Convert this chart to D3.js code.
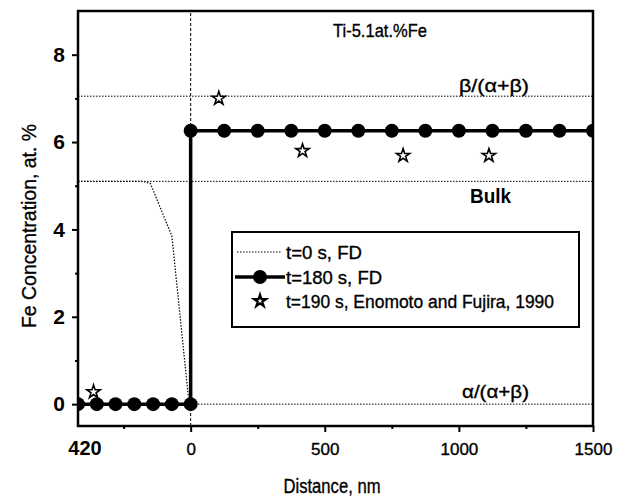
<!DOCTYPE html>
<html><head><meta charset="utf-8">
<script src="https://cdn.jsdelivr.net/npm/d3@7"></script>
<style>
body{margin:0;background:#fff}
svg text{font-family:"Liberation Sans",Arial,sans-serif;fill:#000}
svg text.heavy{stroke:#000;stroke-width:0.35px}
</style></head><body><svg id="c" width="626" height="499"></svg>
<script>
// ---- data ----
const xDomain = [-420, 1500];
const yDomain = [-0.5, 9];
const xTickValues = [-420, 0, 500, 1000, 1500];
const xTickLabels = ["420", "0", "500", "1000", "1500"];
const xMinorTicks = [-250, 250, 750, 1250];
const yTickValues = [0, 2, 4, 6, 8];
const yTickLabels = ["0", "2", "4", "6", "8"];
const yMinorTicks = [1, 3, 5, 7];
const seriesNames = ["t=0 s, FD", "t=180 s, FD", "t=190 s, Enomoto and Fujira, 1990"];
const t0X = [-420, -180, -150, -70, -10, 0];
const t0Y = [5.1, 5.1, 5.05, 3.85, 0.25, 0];
const t180X = [-420, -350, -280, -210, -140, -70, 0, 0, 125, 250, 375, 500, 625, 750, 875, 1000, 1125, 1250, 1375, 1500];
const t180Y = [0, 0, 0, 0, 0, 0, 0, 6.26, 6.26, 6.26, 6.26, 6.26, 6.26, 6.26, 6.26, 6.26, 6.26, 6.26, 6.26, 6.26];
const expX = [-362, 105, 417, 792, 1112];
const expY = [0.28, 7.0, 5.8, 5.69, 5.69];
const refLevels = [7.05, 5.1, 0];
const refLabels = ["β/(α+β)", "Bulk", "α/(α+β)"];
const titleText = "Ti-5.1at.%Fe";
const xLabel = "Distance, nm";
const yLabel = "Fe Concentration, at. %";

// ---- layout ----
const L = 78, R = 593, T = 11, B = 426;
const svg = d3.select("#c");
const x = d3.scaleLinear().domain(xDomain).range([L, R]);
const y = d3.scaleLinear().domain(yDomain).range([B, T]);

svg.append("defs").append("clipPath").attr("id", "clip")
  .append("rect").attr("x", L).attr("y", T).attr("width", R - L).attr("height", B - T);

const plot = svg.append("g").attr("clip-path", "url(#clip)");

// reference lines
plot.selectAll(".ref").data(refLevels).join("line")
  .attr("x1", x(xDomain[0])).attr("x2", x(xDomain[1]))
  .attr("y1", d => y(d)).attr("y2", d => y(d))
  .attr("stroke", "#000").attr("stroke-width", 1).attr("stroke-dasharray", "1.5,1.5");

// vertical dashed line at x=0
plot.append("line").attr("x1", x(0)).attr("x2", x(0)).attr("y1", y(yDomain[0])).attr("y2", y(yDomain[1]))
  .attr("stroke", "#000").attr("stroke-width", 1).attr("stroke-dasharray", "3,2");

// t=0 curve
const line = d3.line().x(d => x(d[0])).y(d => y(d[1]));
plot.append("path").datum(t0X.map((v, i) => [v, t0Y[i]]))
  .attr("d", line).attr("fill", "none").attr("stroke", "#000").attr("stroke-width", 1.2).attr("stroke-dasharray", "1.5,1.5");

// t=180 curve
const t180 = t180X.map((v, i) => [v, t180Y[i]]);
plot.append("path").datum(t180).attr("d", line).attr("fill", "none").attr("stroke", "#000").attr("stroke-width", 3.5);
plot.selectAll(".dot").data(t180).join("circle")
  .attr("cx", d => x(d[0])).attr("cy", d => y(d[1])).attr("r", 7).attr("fill", "#000");

// experimental stars
const star = d3.symbol().type(d3.symbolStar).size(55);
plot.selectAll(".star").data(expX.map((v, i) => [v, expY[i]])).join("path")
  .attr("d", star).attr("transform", d => `translate(${x(d[0])},${y(d[1])})`)
  .attr("fill", "#fff").attr("stroke", "#000").attr("stroke-width", 1.6);

// axes
const xAxis = svg.append("g").attr("transform", `translate(0,${B})`)
  .call(d3.axisBottom(x).tickValues(xTickValues).tickFormat((d, i) => xTickLabels[i]).tickSize(6).tickPadding(11));
xAxis.select(".domain").remove();
xAxis.selectAll(".tick line").attr("stroke-width", 2).attr("stroke", d => d === xDomain[0] ? "none" : "#000");
xAxis.selectAll(".tick text")
  .attr("class", d => d === xDomain[0] ? null : "heavy")
  .attr("font-weight", d => d === xDomain[0] ? "bold" : "normal")
  .attr("font-size", d => d === xDomain[0] ? 20 : 17)
  .attr("dy", d => d === xDomain[0] ? "0.6em" : "0.71em")
  .attr("dx", d => d === xDomain[0] ? 6.5 : 0);
svg.append("g").attr("transform", `translate(0,${B})`)
  .call(d3.axisBottom(x).tickValues(xMinorTicks).tickFormat("").tickSize(3))
  .call(g => g.select(".domain").remove()).selectAll("line").attr("stroke-width", 2);

const yAxis = svg.append("g").attr("transform", `translate(${L},0)`)
  .call(d3.axisLeft(y).tickValues(yTickValues).tickFormat((d, i) => yTickLabels[i]).tickSize(6).tickPadding(7));
yAxis.select(".domain").remove();
yAxis.selectAll(".tick line").attr("stroke-width", 2);
yAxis.selectAll(".tick text").attr("font-size", 21).attr("font-weight", "bold");
svg.append("g").attr("transform", `translate(${L},0)`)
  .call(d3.axisLeft(y).tickValues(yMinorTicks).tickFormat("").tickSize(3))
  .call(g => g.select(".domain").remove()).selectAll("line").attr("stroke-width", 2);

svg.selectAll(".tick text").attr("font-family", "Liberation Sans, Arial, sans-serif");
svg.selectAll("g").attr("font-family", null);

// frame
svg.append("rect").attr("x", L).attr("y", T).attr("width", R - L).attr("height", B - T)
  .attr("fill", "none").attr("stroke", "#000").attr("stroke-width", 2.5);

// texts (squeezed to the reference's condensed face)
function fit(sel, len) { return sel.attr("textLength", len).attr("lengthAdjust", "spacingAndGlyphs"); }
fit(svg.append("text").attr("class", "heavy").attr("x", 380).attr("y", 37).attr("text-anchor", "middle").attr("font-size", 19).text(titleText), 94);
const refLabelX = [494, 490.5, 495.5];
const refLabelY = [92, 203, 398];
const refLabelW = [70, 41, 67];
svg.selectAll(".rl").data(refLabels).join("text")
  .attr("class", (d, i) => i === 1 ? null : "heavy")
  .attr("x", (d, i) => refLabelX[i]).attr("y", (d, i) => refLabelY[i])
  .attr("text-anchor", "middle").attr("font-size", (d, i) => i === 1 ? 20 : 19)
  .attr("font-weight", (d, i) => i === 1 ? "bold" : "normal")
  .attr("textLength", (d, i) => refLabelW[i]).attr("lengthAdjust", "spacingAndGlyphs")
  .text(d => d);

fit(svg.append("text").attr("class", "heavy").attr("x", 332).attr("y", 493).attr("text-anchor", "middle").attr("font-size", 20).text(xLabel), 97);
fit(svg.append("text").attr("class", "heavy").attr("transform", "translate(36,226) rotate(-90)").attr("text-anchor", "middle").attr("font-size", 21).text(yLabel), 204);

// legend
const lg = svg.append("g");
lg.append("rect").attr("x", 232).attr("y", 232).attr("width", 347).attr("height", 95)
  .attr("fill", "#fff").attr("stroke", "#000").attr("stroke-width", 2);
const rowY = [252, 277, 301];
const rowW = [76, 96, 268];
lg.append("line").attr("x1", 237).attr("x2", 282).attr("y1", rowY[0]).attr("y2", rowY[0])
  .attr("stroke", "#000").attr("stroke-width", 1.2).attr("stroke-dasharray", "1.5,1.5");
lg.append("line").attr("x1", 235).attr("x2", 285).attr("y1", rowY[1]).attr("y2", rowY[1])
  .attr("stroke", "#000").attr("stroke-width", 3.5);
lg.append("circle").attr("cx", 260).attr("cy", rowY[1]).attr("r", 7);
lg.append("path").attr("d", d3.symbol().type(d3.symbolStar).size(45)).attr("transform", `translate(260,${rowY[2]})`)
  .attr("fill", "#fff").attr("stroke", "#000").attr("stroke-width", 2.2);
lg.selectAll(".lt").data(seriesNames).join("text")
  .attr("class", "heavy")
  .attr("x", 286).attr("y", (d, i) => rowY[i] + 6.5).attr("font-size", 18.5)
  .attr("textLength", (d, i) => rowW[i]).attr("lengthAdjust", "spacingAndGlyphs").text(d => d);
</script></body></html>
